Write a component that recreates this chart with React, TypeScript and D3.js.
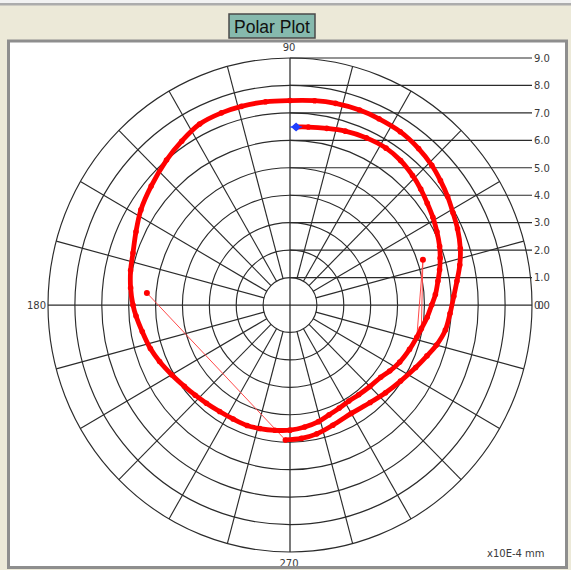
import React from "react";
import * as d3 from "d3";

const TITLE = "Polar Plot";
const UNIT_LABEL = "x10E-4 mm";
const RINGS = [1, 2, 3, 4, 5, 6, 7, 8, 9];
const SPOKES = [0, 15, 30, 45, 60, 75, 90, 105, 120, 135, 150, 165, 180, 195, 210, 225, 240, 255, 270, 285, 300, 315, 330, 345];
const SCALE_VALUES = [1, 2, 3, 4, 5, 6, 7, 8, 9];
const SCALE_LABELS = ["1.0", "2.0", "3.0", "4.0", "5.0", "6.0", "7.0", "8.0", "9.0"];
const ZERO_LABEL = "0.0";
const ANGLE_TICKS = [0, 90, 180, 270];
const ANGLE_LABELS = ["0", "90", "180", "270"];

// measured path, in drawing order (angle in degrees, radius in x10E-4 mm)
const PATH_ANGLE = [
  88, 84, 78, 72, 65, 58, 52, 46, 41, 36, 31, 26, 21, 17, 13, 9, 4, 0, 355, 350,
  18.4,
  346, 340, 333, 327, 322, 315, 308, 302, 296, 290, 284, 277, 270, 263, 256, 250, 243, 236, 229,
  223, 217, 210, 203, 197, 190, 184, 180, 174, 168, 162, 155, 148, 140, 131, 124, 117, 110, 104, 97,
  90, 83, 77, 70, 64, 57, 50, 44, 39, 34, 29, 24, 18, 13, 8, 3, 357, 351, 345, 340,
  334, 326, 318, 310, 300, 290, 282, 275, 268,
  175.3,
];
const PATH_R = [
  6.49, 6.52, 6.58, 6.66, 6.72, 6.74, 6.68, 6.56, 6.44, 6.31, 6.2, 6.08, 5.96, 5.84, 5.71, 5.57, 5.42, 5.27, 5.12, 4.96,
  5.21,
  4.86, 4.73, 4.58, 4.42, 4.28, 4.2, 4.15, 4.13, 4.18, 4.26, 4.38, 4.48, 4.56, 4.6, 4.64, 4.67, 4.66, 4.68, 4.74,
  4.82, 4.92, 5.08, 5.27, 5.43, 5.58, 5.74, 5.84, 5.96, 6.06, 6.14, 6.32, 6.54, 6.74, 7.0, 7.2, 7.4, 7.45, 7.46, 7.46,
  7.45, 7.5, 7.54, 7.56, 7.55, 7.53, 7.44, 7.33, 7.2, 7.07, 6.93, 6.82, 6.66, 6.48, 6.27, 6.1, 5.96, 5.85, 5.64, 5.42,
  5.2, 4.96, 4.78, 4.64, 4.56, 4.66, 4.8, 4.88, 4.92,
  5.34,
];

type P = [number, number];

export default function App() {
  const W = 571;
  const H = 570;
  const cx = 290;
  const cy = 305;
  const rx = d3.scaleLinear().domain([0, 9]).range([0, 242]);
  const ry = d3.scaleLinear().domain([0, 9]).range([0, 247]);
  const rad = (a: number) => (a * Math.PI) / 180;
  const px = (a: number, r: number) => cx + rx(r) * Math.cos(rad(a));
  const py = (a: number, r: number) => cy - ry(r) * Math.sin(rad(a));

  const pts: P[] = PATH_ANGLE.map((a, i) => [px(a, PATH_R[i]), py(a, PATH_R[i])]);
  const dist = (a: P, b: P) => Math.hypot(a[0] - b[0], a[1] - b[1]);
  const GAP = 40;

  const isIso = pts.map((p, i) => {
    const farPrev = i === 0 || dist(p, pts[i - 1]) > GAP;
    const farNext = i === pts.length - 1 || dist(p, pts[i + 1]) > GAP;
    return farPrev && farNext;
  });

  const jumps: [P, P][] = [];
  for (let i = 1; i < pts.length; i++) {
    if (dist(pts[i], pts[i - 1]) > GAP) jumps.push([pts[i - 1], pts[i]]);
  }

  const track = pts.filter((_, i) => !isIso[i]);
  const runs: P[][] = [];
  let cur: P[] = [track[0]];
  for (let i = 1; i < track.length; i++) {
    if (dist(track[i], track[i - 1]) > GAP) {
      if (cur.length > 1) runs.push(cur);
      cur = [track[i]];
    } else cur.push(track[i]);
  }
  if (cur.length > 1) runs.push(cur);

  const line = d3.line<P>().curve(d3.curveCatmullRom);
  const grid = "#2b2b2b";
  const labelFont = "'DejaVu Sans', sans-serif";
  const labelColor = "#3a3a3a";
  const start = pts[0];

  return (
    <svg width={W} height={H} style={{ position: "absolute", left: 0, top: 0, display: "block" }}>
      <rect x={0} y={0} width={W} height={H} fill="#ece9d8" />
      <rect x={0} y={0} width={W} height={3} fill="#f2f2f2" />
      <rect x={0} y={3} width={W} height={2.5} fill="#acacac" />

      {/* title button */}
      <rect x={229} y={14} width={86} height={24} fill="#86b9ad" stroke="#4a4a4a" strokeWidth={1.5} />
      <text x={272} y={33} textAnchor="middle" fontFamily="'Liberation Sans', Arial, sans-serif" fontSize={17.5} fill="#111">
        {TITLE}
      </text>

      {/* panel */}
      <rect x={8.5} y={41} width={558} height={526.5} fill="#ffffff" />

      {/* rings */}
      {RINGS.map((v) => (
        <ellipse key={"r" + v} cx={cx} cy={cy} rx={rx(v)} ry={ry(v)} fill="none" stroke={grid} strokeWidth={1.15} />
      ))}
      {/* spokes */}
      {SPOKES.filter((a) => a % 90 !== 0).map((a) => (
        <line key={"s" + a} x1={px(a, 1)} y1={py(a, 1)} x2={px(a, 9)} y2={py(a, 9)} stroke={grid} strokeWidth={1.15} />
      ))}
      {/* axes */}
      <line x1={px(180, 9)} y1={cy} x2={px(0, 9)} y2={cy} stroke={grid} strokeWidth={1.25} />
      <line x1={cx} y1={py(90, 9)} x2={cx} y2={py(270, 9)} stroke={grid} strokeWidth={1.25} />
      {/* radial scale lines */}
      {SCALE_VALUES.map((v) => (
        <line key={"h" + v} x1={cx} y1={cy - ry(v)} x2={cx + rx(9)} y2={cy - ry(v)} stroke={grid} strokeWidth={1.15} />
      ))}
      {SCALE_VALUES.map((v, i) => (
        <text key={"hl" + v} x={cx + rx(9) + 2} y={cy - ry(v) + 3.8} fontFamily={labelFont} fontSize={10} fill={labelColor}>
          {SCALE_LABELS[i]}
        </text>
      ))}
      <text x={cx + rx(9) + 2} y={cy + 3.8} fontFamily={labelFont} fontSize={10} fill={labelColor}>
        {ZERO_LABEL}
      </text>

      {/* angle labels */}
      {ANGLE_TICKS.map((a, i) => {
        if (a === 90)
          return (
            <text key={"a" + a} x={cx - 1} y={py(90, 9) - 7} textAnchor="middle" fontFamily={labelFont} fontSize={10} fill={labelColor}>
              {ANGLE_LABELS[i]}
            </text>
          );
        if (a === 270)
          return (
            <text key={"a" + a} x={cx - 1} y={py(270, 9) + 14.5} textAnchor="middle" fontFamily={labelFont} fontSize={10} fill={labelColor}>
              {ANGLE_LABELS[i]}
            </text>
          );
        if (a === 180)
          return (
            <text key={"a" + a} x={px(180, 9) - 2} y={cy + 4} textAnchor="end" fontFamily={labelFont} fontSize={10} fill={labelColor}>
              {ANGLE_LABELS[i]}
            </text>
          );
        return (
          <text key={"a" + a} x={px(0, 9) + 5.5} y={cy + 4} fontFamily={labelFont} fontSize={10} fill={labelColor}>
            {ANGLE_LABELS[i]}
          </text>
        );
      })}

      <text x={487} y={557} fontFamily={labelFont} fontSize={10} fill={labelColor}>
        {UNIT_LABEL}
      </text>

      {/* data */}
      {jumps.map((j, i) => (
        <line key={"j" + i} x1={j[0][0]} y1={j[0][1]} x2={j[1][0]} y2={j[1][1]} stroke="#ff4a4a" strokeWidth={1} />
      ))}
      {runs.map((r, i) => (
        <path key={"run" + i} d={line(r) || ""} fill="none" stroke="#ff0000" strokeWidth={4.8} strokeLinecap="round" strokeLinejoin="round" />
      ))}
      {pts.map((p, i) => (
        <circle key={"m" + i} cx={p[0]} cy={p[1]} r={isIso[i] ? 3 : 2.8} fill="#ff0000" />
      ))}

      {/* start marker */}
      <path
        d={`M${start[0] - 5},${start[1]} L${start[0]},${start[1] - 4.5} L${start[0] + 5},${start[1]} L${start[0]},${start[1] + 4.5} Z`}
        fill="#1f3fff"
      />
      <line x1={start[0] - 6} y1={start[1]} x2={start[0] + 6} y2={start[1]} stroke="#1f3fff" strokeWidth={1.2} />

      {/* panel border */}
      <rect x={8.5} y={41} width={558} height={526.5} fill="none" stroke="#8e8e8e" strokeWidth={3} />
    </svg>
  );
}
